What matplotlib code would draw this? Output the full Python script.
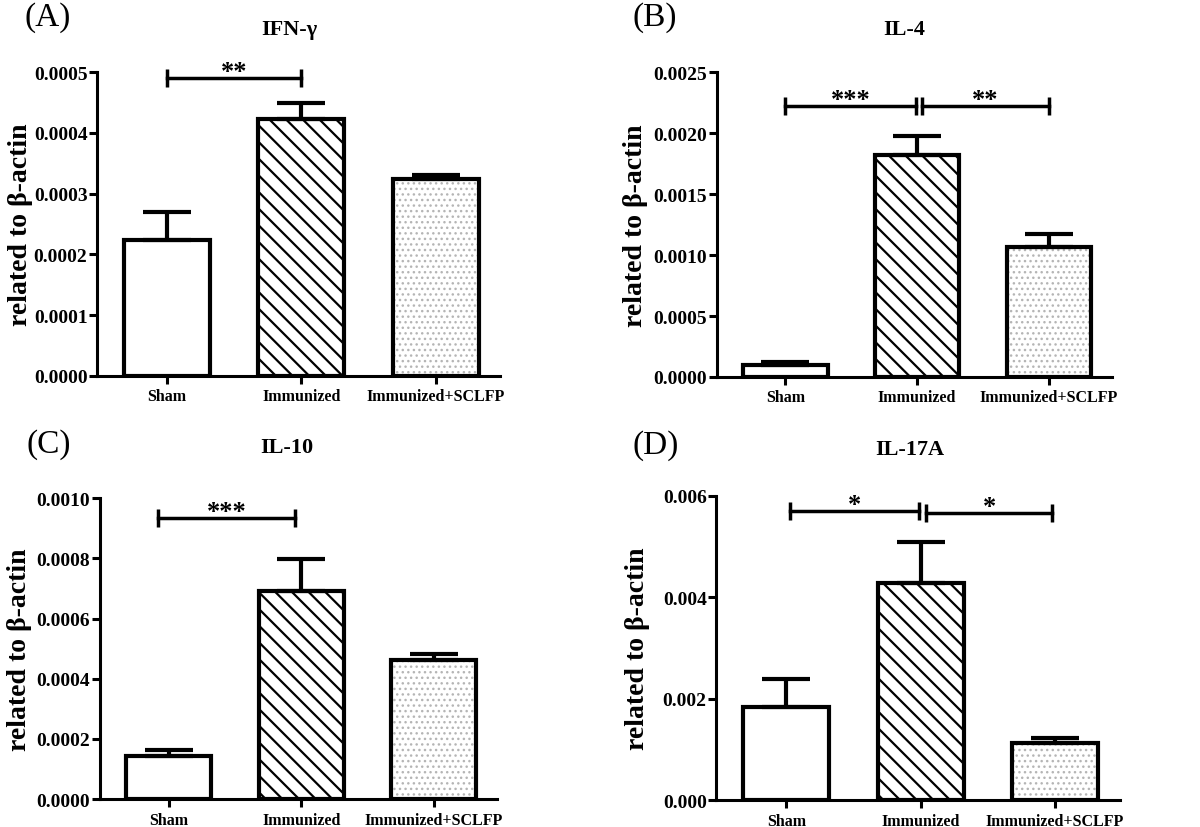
import numpy as np
import matplotlib
matplotlib.use('Agg')
import matplotlib.pyplot as plt
from matplotlib.ticker import FormatStrFormatter

plt.rcParams['font.family'] = ['Liberation Serif', 'DejaVu Serif']
plt.rcParams['font.weight'] = 'bold'

# ---- data ----
groups = ['Sham', 'Immunized', 'Immunized+SCLFP']

ifn_mean = [0.000224, 0.000423, 0.000324]
ifn_err = [0.000046, 0.000027, 0.000006]

il4_mean = [0.00010, 0.00182, 0.00107]
il4_err = [0.00002, 0.00016, 0.00010]

il10_mean = [0.000143, 0.000692, 0.000462]
il10_err = [0.000020, 0.000105, 0.000019]

il17_mean = [0.00183, 0.00429, 0.00113]
il17_err = [0.00056, 0.00080, 0.00009]

# significance brackets: (from, to, height, stars)
ifn_sig = [(0.0, 1.0, 0.00049, '**')]
il4_sig = [(0.0, 0.99, 0.00222, '***'), (1.04, 2.0, 0.00222, '**')]
il10_sig = [(-0.08, 0.95, 0.000933, '***')]
il17_sig = [(0.03, 0.99, 0.0057, '*'), (1.04, 1.98, 0.00567, '*')]

panels = [
    ('(A)', 'IFN-\u03b3', ifn_mean, ifn_err, ifn_sig, 0.0005, 0.0001, '%.4f',
     [0.081, 0.5447, 0.336, 0.367], -0.16, (25, 18), (289, 30)),
    ('(B)', 'IL-4', il4_mean, il4_err, il4_sig, 0.0025, 0.0005, '%.4f',
     [0.5975, 0.5435, 0.329, 0.368], -0.175, (633, 18), (904, 30)),
    ('(C)', 'IL-10', il10_mean, il10_err, il10_sig, 0.0010, 0.0002, '%.4f',
     [0.0833, 0.0338, 0.331, 0.3632], -0.17, (27, 445), (287, 448)),
    ('(D)', 'IL-17A', il17_mean, il17_err, il17_sig, 0.006, 0.002, '%.3f',
     [0.597, 0.0326, 0.336, 0.3672], -0.165, (633, 446), (910, 450)),
]

W, H = 1200, 828
fig = plt.figure(figsize=(12, 8.28), dpi=100)
x = np.arange(len(groups))
bw = 0.64

for label, title, mean, err, sig, ymax, step, fmt, pos, ylab_x, lab_xy, title_xy in panels:
    ax = fig.add_axes(pos)

    # white bar
    ax.bar(x[0], mean[0], bw, facecolor='white', edgecolor='black', linewidth=3, zorder=3)
    # hatched bar
    plt.rcParams['hatch.linewidth'] = 1.6
    ax.bar(x[1], mean[1], bw, facecolor='white', edgecolor='black', linewidth=3,
           hatch='\\\\', zorder=3)
    # dotted bar
    plt.rcParams['hatch.linewidth'] = 1.0
    ax.bar(x[2], mean[2], bw, facecolor='white', edgecolor='#b5b5b5', linewidth=0,
           hatch='...', zorder=2)
    ax.bar(x[2], mean[2], bw, facecolor='none', edgecolor='black', linewidth=3, zorder=3)

    # upper error bars only
    ax.errorbar(x, mean, yerr=[np.zeros(3), err], fmt='none', ecolor='black',
                elinewidth=3, capsize=17, capthick=3, zorder=4)

    for x1, x2, yb, stars in sig:
        ax.plot([x1, x2], [yb, yb], color='black', lw=2.5, marker='|',
                markersize=13, mew=2.5, clip_on=False, zorder=5)
        ax.annotate(stars, xy=((x1 + x2) / 2, yb), xytext=(0, 0), textcoords='offset points',
                    ha='center', va='baseline', fontsize=19, fontweight='bold',
                    annotation_clip=False)

    ax.set_xlim(-0.52, 2.48)
    ax.set_ylim(0, ymax)
    ax.set_yticks(np.arange(0, ymax + step / 2, step))
    ax.yaxis.set_major_formatter(FormatStrFormatter(fmt))
    ax.set_xticks(x)
    ax.set_xticklabels(groups, fontsize=11.5, fontweight='bold')
    for t in ax.get_yticklabels():
        t.set_fontsize(14)
        t.set_fontweight('bold')

    for s in ['top', 'right']:
        ax.spines[s].set_visible(False)
    for s in ['left', 'bottom']:
        ax.spines[s].set_linewidth(2.2)
    ax.tick_params(axis='both', width=2.2, length=6, direction='out')
    ax.tick_params(axis='y', pad=1)
    ax.tick_params(axis='x', pad=3)

    ax.set_ylabel('related to \u03b2-actin', fontsize=20, fontweight='bold')
    ax.yaxis.set_label_coords(ylab_x, 0.5)

    fig.text(lab_xy[0] / W, 1 - lab_xy[1] / H, label, fontsize=24, fontweight='normal',
             ha='left', va='center')
    fig.text(title_xy[0] / W, 1 - title_xy[1] / H, title, fontsize=16, fontweight='bold',
             ha='center', va='center')

fig.savefig('out.png', dpi=100)
